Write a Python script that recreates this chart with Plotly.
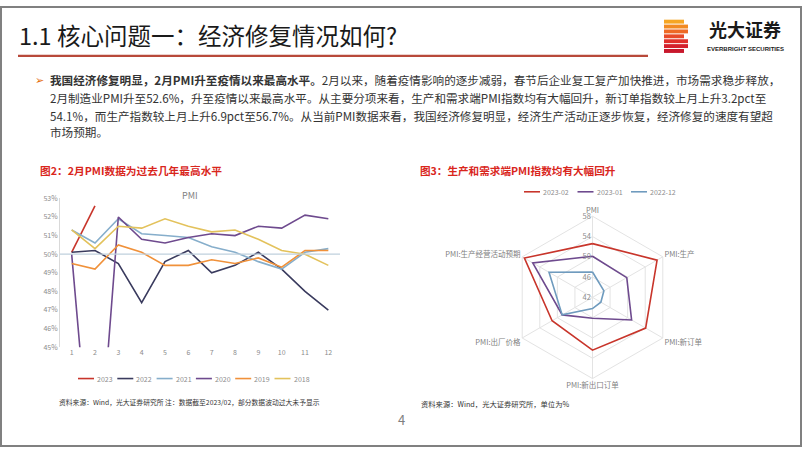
import plotly.graph_objects as go

W, H = 802, 451
FONT = "Noto Sans CJK SC"

# ---------------- data ----------------
months = [1, 2, 3, 4, 5, 6, 7, 8, 9, 10, 11, 12]
pmi_2023 = [50.1, 52.6]
pmi_2022 = [50.1, 50.2, 49.5, 47.4, 49.6, 50.2, 49.0, 49.4, 50.1, 49.2, 48.0, 47.0]
pmi_2021 = [51.3, 50.6, 51.9, 51.1, 51.0, 50.9, 50.4, 50.1, 49.6, 49.2, 50.1, 50.3]
pmi_2020 = [50.0, 35.7, 52.0, 50.8, 50.6, 50.9, 51.1, 51.0, 51.5, 51.4, 52.1, 51.9]
pmi_2019 = [49.5, 49.2, 50.5, 50.1, 49.4, 49.4, 49.7, 49.5, 49.8, 49.3, 50.2, 50.2]
pmi_2018 = [51.3, 50.3, 51.5, 51.4, 51.9, 51.5, 51.2, 51.3, 50.8, 50.2, 50.0, 49.4]
y_ticks = [45, 46, 47, 48, 49, 50, 51, 52, 53]
y_tick_labels = [f"{v}%" for v in y_ticks]

radar_cats = ["PMI", "PMI:生产", "PMI:新订单", "PMI:新出口订单", "PMI:出厂价格", "PMI:生产经营活动预期"]
radar_2023_02 = [52.6, 56.7, 54.1, 52.4, 51.2, 57.5]
radar_2023_01 = [50.1, 49.8, 50.9, 46.1, 48.9, 55.6]
radar_2022_12 = [47.0, 44.6, 43.9, 44.2, 48.9, 51.9]
radar_ticks = [42, 46, 50, 54, 58]

# ---------------- helpers ----------------
def px(x):
    return x / W

def py(y):
    return 1 - y / H

fig = go.Figure()

line_series = [
    ("2023", pmi_2023, "#C8352B"),
    ("2022", pmi_2022, "#3A3B5E"),
    ("2021", pmi_2021, "#86AECB"),
    ("2020", pmi_2020, "#6E4A8E"),
    ("2019", pmi_2019, "#F0913A"),
    ("2018", pmi_2018, "#E3C25C"),
]
for name, vals, col in line_series:
    fig.add_trace(go.Scatter(
        x=months[:len(vals)], y=vals, name=name, mode="lines",
        line=dict(color=col, width=1.6), showlegend=False,
    ))

radar_series = [
    ("2023-02", radar_2023_02, "#C8352B"),
    ("2023-01", radar_2023_01, "#6E4A8E"),
    ("2022-12", radar_2022_12, "#6F9BBE"),
]
for name, vals, col in radar_series:
    fig.add_trace(go.Scatterpolar(
        r=vals + vals[:1], theta=radar_cats + radar_cats[:1], name=name,
        mode="lines", line=dict(color=col, width=1.6), showlegend=False,
        subplot="polar",
    ))

axis_font = dict(family=FONT, size=7, color="#8c8c8c")

fig.update_layout(
    width=W, height=H, margin=dict(l=0, r=0, t=0, b=0),
    paper_bgcolor="white", plot_bgcolor="white",
    font=dict(family=FONT),
    xaxis=dict(domain=[px(60), px(340)], range=[0.5, 12.5], tickvals=months,
               showgrid=False, zeroline=False, showline=False, tickfont=axis_font,
               ticks="", anchor="y"),
    yaxis=dict(domain=[py(349), py(196.7)], range=[45, 53], tickmode="array",
               tickvals=y_ticks, ticktext=y_tick_labels,
               showgrid=False, zeroline=False, showline=True,
               linecolor="#d9d9d9", linewidth=1, tickfont=axis_font, ticks="",
               anchor="x"),
    polar=dict(
        domain=dict(x=[px(509.5), px(675.5)], y=[py(381), py(215)]),
        bgcolor="white",
        gridshape="linear",
        angularaxis=dict(rotation=90, direction="clockwise", showline=True,
                         linecolor="#e3e3e3", gridcolor="#e3e3e3", ticks="",
                         tickfont=dict(family=FONT, size=7.5, color="#7f7f7f")),
        radialaxis=dict(range=[42, 58], tickvals=radar_ticks, angle=90,
                        tickangle=90, showline=False, gridcolor="#e3e3e3", ticks="",
                        side="counterclockwise",
                        tickfont=dict(family=FONT, size=7.5, color="#8c8c8c")),
    ),
    showlegend=False,
)

shapes = [
    # slide border
    dict(type="rect", xref="paper", yref="paper", x0=px(1), x1=px(801), y0=py(450), y1=py(1),
         line=dict(color="#808080", width=2), fillcolor="rgba(0,0,0,0)"),
    # header underline
    dict(type="line", xref="paper", yref="paper", x0=px(18), x1=px(648), y0=py(51), y1=py(51),
         line=dict(color="#B8493A", width=2.2)),
    # 50% reference line in the PMI chart
    dict(type="line", xref="x", yref="y", x0=0.5, x1=12.5, y0=50, y1=50,
         line=dict(color="#BFD0DD", width=1.2)),
]
# logo block (stylised stripes)
logo_cols = ["#F6A623", "#F28A22", "#EE6A25", "#E84A28", "#E0302B", "#D4202C", "#C8182C"]
for i, c in enumerate(logo_cols):
    y0 = 14 + i * 5
    shapes.append(dict(type="rect", xref="paper", yref="paper",
                       x0=px(664), x1=px(688 if i not in (0, 3, 6) else 684),
                       y0=py(y0 + 4), y1=py(y0), line=dict(width=0), fillcolor=c))

TXT = "#333333"
BS = 11.6
ann = [
    dict(text="1.1 核心问题一：经济修复情况如何?", x=px(17), y=py(30), xanchor="left", yanchor="middle",
         font=dict(family=FONT, size=23.5, color="#1a1a1a")),
    dict(text="<b>光大证券</b>", x=px(745), y=py(24), xanchor="center", yanchor="middle",
         font=dict(family=FONT, size=18, color="#1a1a1a")),
    dict(text="<b>EVERBRIGHT SECURITIES</b>", x=px(745), y=py(44), xanchor="center", yanchor="middle",
         font=dict(family="Liberation Sans", size=6, color="#1a1a1a")),
    dict(text="➢", x=px(33), y=py(76), xanchor="left", yanchor="middle",
         font=dict(family="DejaVu Sans", size=11, color="#E46C0A")),
    dict(text="<b>我国经济修复明显，2月PMI升至疫情以来最高水平。</b>2月以来，随着疫情影响的逐步减弱，春节后企业复工复产加快推进，市场需求稳步释放，",
         x=px(48), y=py(76), xanchor="left", yanchor="middle", font=dict(family=FONT, size=BS, color=TXT)),
    dict(text="2月制造业PMI升至52.6%，升至疫情以来最高水平。从主要分项来看，生产和需求端PMI指数均有大幅回升，新订单指数较上月上升3.2pct至",
         x=px(48), y=py(94), xanchor="left", yanchor="middle", font=dict(family=FONT, size=BS, color=TXT)),
    dict(text="54.1%，而生产指数较上月上升6.9pct至56.7%。从当前PMI数据来看，我国经济修复明显，经济生产活动正逐步恢复，经济修复的速度有望超",
         x=px(48), y=py(112), xanchor="left", yanchor="middle", font=dict(family=FONT, size=BS, color=TXT)),
    dict(text="市场预期。", x=px(48), y=py(129), xanchor="left", yanchor="middle",
         font=dict(family=FONT, size=BS, color=TXT)),
    dict(text="<b>图2：2月PMI数据为过去几年最高水平</b>", x=px(38), y=py(168), xanchor="left", yanchor="middle",
         font=dict(family=FONT, size=10.7, color="#D9261C")),
    dict(text="<b>图3：生产和需求端PMI指数均有大幅回升</b>", x=px(418), y=py(168), xanchor="left", yanchor="middle",
         font=dict(family=FONT, size=10.6, color="#D9261C")),
    dict(text="PMI", x=px(190), y=py(194), xanchor="center", yanchor="middle",
         font=dict(family=FONT, size=9, color="#7f7f7f")),
    dict(text="资料来源：Wind，光大证券研究所 注：数据截至2023/02，部分数据波动过大未予显示",
         x=px(57), y=py(405), xanchor="left", yanchor="middle", font=dict(family=FONT, size=6.8, color=TXT)),
    dict(text="资料来源：Wind，光大证券研究所，单位为%",
         x=px(419), y=py(407), xanchor="left", yanchor="middle", font=dict(family=FONT, size=7.3, color=TXT)),
    dict(text="4", x=px(401), y=py(423), xanchor="center", yanchor="middle",
         font=dict(family=FONT, size=13, color="#7f7f7f")),
]

# legend keys (drawn as short line + label, one per series)
def add_legend(series, x_start, step, y, line_len):
    for i, (name, _vals, col) in enumerate(series):
        x0 = x_start + i * step
        shapes.append(dict(type="line", xref="paper", yref="paper",
                           x0=px(x0), x1=px(x0 + line_len), y0=py(y), y1=py(y),
                           line=dict(color=col, width=1.6)))
        ann.append(dict(text=name, x=px(x0 + line_len + 1), y=py(y), xanchor="left",
                        yanchor="middle", font=dict(family=FONT, size=7, color="#8c8c8c")))

add_legend(line_series, 78, 39.3, 381, 16)
add_legend(radar_series, 524, 53.5, 190, 16)

for a in ann:
    a.update(xref="paper", yref="paper", showarrow=False)
fig.update_layout(shapes=shapes, annotations=ann)

fig.write_html("out.html")
